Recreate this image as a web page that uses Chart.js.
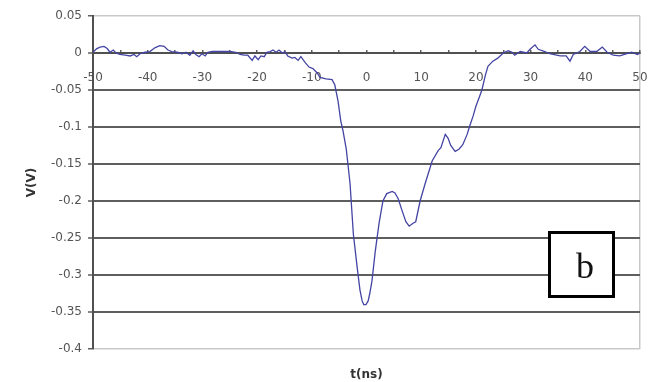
<!DOCTYPE html>
<html>
<head>
<meta charset="utf-8">
<script src="https://cdn.jsdelivr.net/npm/chart.js@4/dist/chart.umd.min.js"></script>
<style>
  html, body { margin: 0; padding: 0; background: #fff; }
  #plot { display: block; }
</style>
</head>
<body>
<canvas id="plot" width="654" height="382"></canvas>
<script>
// Oscilloscope trace: time (ns) and voltage (V)
const times = [
  -50.0, -49.3, -48.7, -48.0, -47.4, -46.9, -46.3, -45.8, -45.1, -44.1,
  -43.2, -42.5, -42.0, -41.4, -40.5, -39.6, -38.7, -37.8, -37.0, -36.3,
  -35.6, -34.6, -33.7, -33.0, -32.3, -31.7, -31.2, -30.6, -30.1, -29.5,
  -29.0, -28.2, -26.8, -25.0, -23.9, -23.1, -22.4, -21.7, -20.9, -20.4,
  -19.8, -19.3, -18.7, -18.2, -17.6, -17.1, -16.5, -16.0, -15.4, -14.9,
  -14.4, -13.6, -13.1, -12.5, -12.0, -11.2, -10.5, -9.8, -9.0, -8.5,
  -7.4, -6.3, -5.8, -5.2, -4.7, -4.3, -3.7, -3.4, -3.0, -2.8,
  -2.4, -1.7, -1.2, -0.8, -0.5, -0.1, 0.3, 0.6, 1.0, 1.6,
  2.3, 3.0, 3.7, 4.7, 5.2, 5.8, 6.5, 7.2, 7.8, 8.5,
  9.0, 9.8, 10.7, 12.0, 13.1, 13.6, 14.4, 14.9, 15.4, 16.2,
  16.9, 17.6, 18.4, 18.9, 19.5, 20.0, 20.6, 21.1, 21.7, 22.2,
  23.1, 24.0, 25.0, 25.9, 26.6, 27.1, 28.1, 29.3, 29.9, 30.8,
  31.4, 32.6, 33.5, 35.4, 36.5, 37.2, 37.8, 39.0, 39.9, 40.9,
  42.1, 43.1, 44.0, 45.1, 46.3, 47.6, 48.5, 49.5, 50.0
];
const volts = [
  0.001, 0.006, 0.008, 0.009, 0.006, 0.001, 0.004, 0.000, -0.002, -0.003,
  -0.004, -0.002, -0.005, -0.001, 0.001, 0.002, 0.007, 0.010, 0.009, 0.004,
  0.002, 0.001, -0.001, 0.001, -0.003, 0.003, -0.002, -0.005, -0.001, -0.004,
  0.001, 0.002, 0.002, 0.002, 0.001, -0.002, -0.003, -0.003, -0.010, -0.004,
  -0.009, -0.004, -0.005, 0.001, 0.002, 0.004, 0.001, 0.004, 0.000, 0.002,
  -0.004, -0.007, -0.006, -0.010, -0.005, -0.013, -0.019, -0.021, -0.027, -0.033,
  -0.035, -0.036, -0.043, -0.065, -0.092, -0.105, -0.130, -0.150, -0.177, -0.200,
  -0.245, -0.290, -0.320, -0.335, -0.340, -0.340, -0.335, -0.325, -0.308, -0.268,
  -0.230, -0.200, -0.190, -0.187, -0.189, -0.197, -0.213, -0.228, -0.234, -0.230,
  -0.228, -0.200, -0.177, -0.146, -0.132, -0.128, -0.110, -0.115, -0.125, -0.133,
  -0.130, -0.124, -0.110, -0.098, -0.085, -0.072, -0.060, -0.050, -0.031, -0.018,
  -0.011, -0.007, 0.000, 0.003, 0.001, -0.003, 0.002, 0.000, 0.005, 0.011,
  0.005, 0.002, -0.001, -0.004, -0.004, -0.011, -0.002, 0.002, 0.009, 0.002,
  0.002, 0.008, 0.001, -0.003, -0.004, -0.001, 0.001, -0.002, 0.000
];

// Axis ticks
const xTickValues = [-50, -45, -40, -35, -30, -25, -20, -15, -10, -5, 0, 5, 10, 15, 20, 25, 30, 35, 40, 45, 50];
const xLabelStep = 10;
const yTickValues = [0.05, 0, -0.05, -0.1, -0.15, -0.2, -0.25, -0.3, -0.35, -0.4];
const yTickLabels = ['0.05', '0', '-0.05', '-0.1', '-0.15', '-0.2', '-0.25', '-0.3', '-0.35', '-0.4'];

const xTitle = 't(ns)';
const yTitle = 'V(V)';
const panelTag = 'b';

const points = times.map((t, i) => ({ x: t, y: volts[i] }));

const FONT = '"DejaVu Sans", "Liberation Sans", sans-serif';
const DARK = '#5e5e5e';
const LIGHT = '#c9c9c9';

// Framed panel letter in the lower right of the plot
const panelTagPlugin = {
  id: 'panelTag',
  afterDraw(chart) {
    const { ctx, chartArea } = chart;
    const x = chartArea.right - 92;
    const y = chartArea.top + 215;
    const size = 67;
    ctx.save();
    ctx.fillStyle = '#ffffff';
    ctx.fillRect(x, y, size, size);
    ctx.lineWidth = 3;
    ctx.strokeStyle = '#000000';
    ctx.strokeRect(x + 1.5, y + 1.5, size - 3, size - 3);
    ctx.fillStyle = '#111111';
    ctx.font = '36px "Liberation Serif", "DejaVu Serif", serif';
    ctx.textAlign = 'center';
    ctx.textBaseline = 'alphabetic';
    ctx.fillText(panelTag, x + 37, y + 47);
    ctx.restore();
  }
};

new Chart(document.getElementById('plot'), {
  type: 'line',
  data: {
    datasets: [{
      data: points,
      borderColor: '#4444a4',
      borderWidth: 1.3,
      pointRadius: 0,
      tension: 0,
      fill: false
    }]
  },
  options: {
    responsive: false,
    animation: false,
    devicePixelRatio: 1,
    layout: { padding: { top: 16, right: 14, left: 0, bottom: 0 } },
    plugins: {
      legend: { display: false },
      tooltip: { enabled: false },
      title: {
        display: true,
        position: 'bottom',
        fullSize: false,
        text: xTitle,
        color: '#333',
        font: { family: FONT, size: 12, weight: 'bold' },
        padding: { top: 18.6, bottom: 0 }
      }
    },
    scales: {
      x: {
        type: 'linear',
        position: { y: 0 },
        min: -50,
        max: 50,
        afterBuildTicks: (scale) => { scale.ticks = xTickValues.map(v => ({ value: v })); },
        afterFit: (scale) => { scale.paddingLeft = 0; scale.paddingRight = 0; },
        ticks: {
          autoSkip: false,
          maxRotation: 0,
          padding: 22,
          color: '#555',
          font: { family: FONT, size: 12 },
          callback: (v) => (v % xLabelStep === 0 ? String(v) : '')
        },
        grid: {
          drawOnChartArea: true,
          drawTicks: true,
          tickLength: -4,
          color: (c) => (c.tick && c.tick.value === 50 ? LIGHT : 'rgba(0,0,0,0)'),
          lineWidth: 1.5,
          tickColor: DARK,
          tickWidth: 1.5
        },
        border: { display: true, color: '#505050', width: 2 }
      },
      y: {
        type: 'linear',
        position: 'left',
        min: -0.4,
        max: 0.05,
        afterBuildTicks: (scale) => { scale.ticks = yTickValues.map(v => ({ value: v })); },
        afterFit: (scale) => { scale.width = 93; },
        ticks: {
          autoSkip: false,
          padding: 6,
          color: '#555',
          font: { family: FONT, size: 12 },
          callback: (v, i) => yTickLabels[i]
        },
        grid: {
          color: (c) => {
            const v = c.tick ? c.tick.value : null;
            return (v === 0.05 || v === -0.4) ? LIGHT : DARK;
          },
          lineWidth: (c) => {
            const v = c.tick ? c.tick.value : null;
            return (v === 0.05 || v === -0.4) ? 1.5 : 2;
          },
          tickLength: 5,
          tickColor: DARK,
          tickWidth: 1.5
        },
        border: { display: true, color: '#505050', width: 2 },
        title: {
          display: true,
          text: yTitle,
          color: '#333',
          font: { family: FONT, size: 12, weight: 'bold' },
          padding: { top: 24.8, bottom: 0 }
        }
      }
    }
  },
  plugins: [panelTagPlugin]
});
</script>
</body>
</html>
